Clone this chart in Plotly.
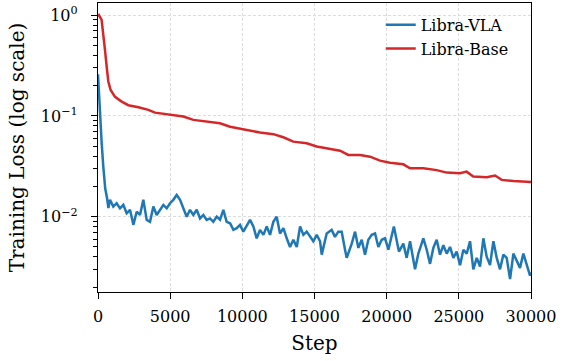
import plotly.graph_objects as go

# ---------------- data ----------------
red_steps = [0, 70, 250, 370, 485, 600, 715, 875, 1180, 1640, 2100, 2800, 3490, 3950,
             4300, 4990, 5910, 6610, 7530, 8450, 9150, 9960, 10530, 11220, 12150, 12840,
             13530, 14460, 15150, 16070, 16770, 17340, 18150, 18850, 19540, 20230, 21150,
             21620, 22540, 23460, 24160, 25080, 25540, 26000, 26930, 27510, 27970, 28780,
             29930, 30000]
red_loss = [0.97, 1.0, 0.90, 0.66, 0.45, 0.31, 0.22, 0.181, 0.155, 0.139, 0.128, 0.122,
            0.115, 0.108, 0.1065, 0.1042, 0.0988, 0.0915, 0.088, 0.0847, 0.0783, 0.0741,
            0.0725, 0.0685, 0.066, 0.0615, 0.0556, 0.0536, 0.0497, 0.047, 0.0452, 0.041,
            0.041, 0.0394, 0.036, 0.0344, 0.0331, 0.0302, 0.0302, 0.029, 0.0274, 0.027,
            0.028, 0.025, 0.0246, 0.0256, 0.0232, 0.0226, 0.022, 0.0221]

blue_steps = [0, 100, 250, 370, 500, 620, 720, 830, 1060, 1290, 1525, 1755, 1985, 2220,
              2450, 2680, 2910, 3140, 3375, 3605, 3835, 4065, 4295, 4530, 4760, 4990, 5220,
              5450, 5685, 5915, 6145, 6375, 6605, 6840, 7070, 7300, 7530, 7760, 7990, 8225,
              8455, 8685, 8915, 9150, 9380, 9610, 9840, 10070, 10300, 10535, 10765, 10995,
              11225, 11460, 11690, 11920, 12150, 12380, 12610, 12845, 13075, 13305, 13535,
              13770, 14000, 14230, 14460, 14690, 14920, 15155, 15385, 15500, 15615, 15845,
              16190, 16420, 16650, 16885, 17115, 17230, 17580, 17810, 18040, 18270, 18500,
              18730, 18965, 19195, 19425, 19655, 19885, 20120, 20500, 20700, 20850, 21155,
              21385, 21620, 21850, 21965, 22195, 22540, 22775, 23005, 23235, 23465, 23695,
              23930, 24160, 24390, 24620, 24850, 25085, 25315, 25545, 25775, 26005, 26240,
              26470, 26700, 26930, 27160, 27395, 27625, 27855, 28085, 28315, 28550, 28780,
              29010, 29240, 29470, 29705, 29935, 30000]
blue_loss = [0.26, 0.13, 0.055, 0.031, 0.019, 0.0155, 0.0122, 0.0147, 0.0126, 0.0136,
             0.0121, 0.0131, 0.0108, 0.0117, 0.0083, 0.0112, 0.0104, 0.0147, 0.0093, 0.0089,
             0.0126, 0.0104, 0.0117, 0.0131, 0.0121, 0.0136, 0.0147, 0.0164, 0.0147, 0.0121,
             0.0100, 0.0117, 0.0104, 0.0117, 0.0096, 0.0104, 0.0093, 0.0096, 0.0089, 0.0100,
             0.0093, 0.0117, 0.0089, 0.0086, 0.0074, 0.0077, 0.0083, 0.0071, 0.0080, 0.0093,
             0.0080, 0.0061, 0.0074, 0.0066, 0.0080, 0.0066, 0.0089, 0.0100, 0.0068, 0.0077,
             0.0061, 0.0050, 0.0059, 0.0050, 0.0080, 0.0066, 0.0071, 0.0063, 0.0057, 0.0066,
             0.0057, 0.0042, 0.0050, 0.0068, 0.0074, 0.0063, 0.0071, 0.0071, 0.0047, 0.0039,
             0.0054, 0.0071, 0.0049, 0.0059, 0.0042, 0.0059, 0.0066, 0.0068, 0.0050, 0.0059,
             0.0061, 0.0047, 0.0080, 0.0059, 0.0045, 0.0054, 0.0039, 0.0057, 0.0036, 0.0030,
             0.0043, 0.0061, 0.0047, 0.0034, 0.0049, 0.0059, 0.0042, 0.0052, 0.0043, 0.0050,
             0.0039, 0.0045, 0.0033, 0.0047, 0.0043, 0.0057, 0.0030, 0.0039, 0.0032, 0.0061,
             0.0040, 0.0033, 0.0057, 0.0039, 0.0030, 0.0042, 0.0039, 0.0024, 0.0043, 0.0036,
             0.0031, 0.0043, 0.0034, 0.0026, 0.0028]

x_ticks = [0, 5000, 10000, 15000, 20000, 25000, 30000]
x_tick_text = ["0", "5000", "10000", "15000", "20000", "25000", "30000"]
y_ticks = [1, 0.1, 0.01]
y_tick_text = ["10<sup>0</sup>", "10<sup>\u22121</sup>", "10<sup>\u22122</sup>"]
y_minor = [m * d for d in (0.001, 0.01, 0.1) for m in range(2, 10)]

FONT = "DejaVu Serif"
GRID = "#dcdcdc"

fig = go.Figure()
fig.add_trace(go.Scatter(x=blue_steps, y=blue_loss, mode="lines", name="Libra-VLA",
                         line=dict(color="#1f77b4", width=2.5)))
fig.add_trace(go.Scatter(x=red_steps, y=red_loss, mode="lines", name="Libra-Base",
                         line=dict(color="#d62728", width=2.5)))

fig.update_layout(
    template="none",
    width=562, height=361,
    margin=dict(l=98, r=31, t=3, b=69, autoexpand=False),
    paper_bgcolor="white", plot_bgcolor="white",
    font=dict(family=FONT, size=16, color="black"),
    legend=dict(x=0.653, y=0.983, xanchor="left", yanchor="top",
                bgcolor="rgba(0,0,0,0)", borderwidth=0,
                font=dict(family=FONT, size=16),
                tracegroupgap=0, itemwidth=30),
    showlegend=True,
)
fig.update_xaxes(
    automargin=False,
    range=[0, 30000], tickmode="array", tickvals=x_ticks, ticktext=x_tick_text,
    ticks="outside", ticklen=6, tickwidth=1, tickcolor="black",
    ticklabelstandoff=4,
    showline=True, linecolor="black", linewidth=1.3, mirror=True,
    showgrid=True, gridcolor=GRID, griddash="3px,2px", gridwidth=0.8,
    zeroline=False,
    title=dict(text="Step", font=dict(family=FONT, size=20), standoff=10),
    tickfont=dict(family=FONT, size=16),
)
fig.update_yaxes(
    automargin=False,
    type="log", range=[-2.748, 0.122], tickmode="array",
    tickvals=y_ticks, ticktext=y_tick_text,
    ticks="outside", ticklen=6, tickwidth=1, tickcolor="black",
    ticklabelstandoff=10,
    minor=dict(tickmode="array", tickvals=y_minor, ticks="outside", ticklen=3.5,
               tickwidth=0.8, tickcolor="black", showgrid=False),
    showline=True, linecolor="black", linewidth=1.3, mirror=True,
    showgrid=True, gridcolor=GRID, griddash="3px,2px", gridwidth=0.8,
    zeroline=False,
    title=dict(text="Training Loss (log scale)", font=dict(family=FONT, size=20), standoff=10),
    tickfont=dict(family=FONT, size=16),
)

fig.write_html(
    "out.html",
    config={"displayModeBar": False},
    post_script="document.body.style.margin='0';document.body.style.padding='0';",
)
